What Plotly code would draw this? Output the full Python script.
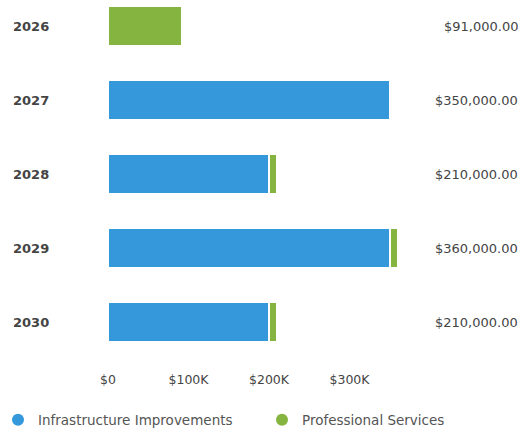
import plotly.graph_objects as go

years = ["2026", "2027", "2028", "2029", "2030"]
infrastructure = [0, 350000, 200000, 350000, 200000]
professional = [91000, 0, 10000, 10000, 10000]
tick_vals = [0, 100000, 200000, 300000]
tick_text = ["$0", "$100K", "$200K", "$300K"]

BLUE = "#3498db"
GREEN = "#86b440"
TEXT = "#444444"
FONT = "DejaVu Sans"

totals = [a + b for a, b in zip(infrastructure, professional)]

W, H = 521, 433
L, R, T, B = 108, 1, 0, 73
plot_w = W - L - R
plot_h = H - T - B
px_per_100k = 80.5
x_max = plot_w / px_per_100k * 100000

fig = go.Figure()
fig.add_bar(y=years, x=infrastructure, orientation="h", marker_color=BLUE,
            marker_line=dict(color="white", width=1.5), showlegend=False,
            name="Infrastructure Improvements")
fig.add_bar(y=years, x=professional, orientation="h", marker_color=GREEN,
            marker_line=dict(color="white", width=1.5), showlegend=False,
            name="Professional Services")

# legend entries drawn as circles, one legend box per series
for name, col, lg in [("Infrastructure Improvements", BLUE, "legend"),
                      ("Professional Services", GREEN, "legend2")]:
    fig.add_scatter(x=[None], y=[None], mode="markers", name=name, legend=lg,
                    marker=dict(color=col, size=12, symbol="circle"))

# year labels on the left, totals on the right (category index positions)
annotations = []
for i, (yr, tot) in enumerate(zip(years, totals)):
    annotations.append(dict(x=1, xref="paper", y=i, yref="y", xanchor="right",
                            text=f"${tot:,.2f}", showarrow=False,
                            font=dict(family=FONT, size=13, color=TEXT)))
    annotations.append(dict(x=(11 - L) / plot_w, xref="paper", y=i, yref="y",
                            xanchor="left", text=f"<b>{yr}</b>", showarrow=False,
                            font=dict(family=FONT, size=13, color=TEXT)))

y_top = -26 / 74
y_bot = (plot_h - 26) / 74

legend_common = dict(orientation="h", xanchor="left",
                     y=-(420 - plot_h) / plot_h, yanchor="middle",
                     font=dict(family=FONT, size=13.5, color="#555555"),
                     itemwidth=30)

fig.update_layout(
    width=W, height=H,
    margin=dict(l=L, r=R, t=T, b=B, autoexpand=False),
    barmode="stack", bargap=0.46,
    plot_bgcolor="white", paper_bgcolor="white",
    font=dict(family=FONT, color=TEXT),
    xaxis=dict(range=[0, x_max], tickvals=tick_vals, ticktext=tick_text,
               showgrid=False, zeroline=False, showline=False,
               ticklabelstandoff=10,
               tickfont=dict(family=FONT, size=12.5, color=TEXT)),
    yaxis=dict(type="category", range=[y_bot, y_top], showticklabels=False,
               showgrid=False, zeroline=False,
               categoryorder="array", categoryarray=years),
    legend=dict(x=(-2 - L) / plot_w, **legend_common),
    legend2=dict(x=(262 - L) / plot_w, **legend_common),
    annotations=annotations,
)

fig.write_html("out.html")
